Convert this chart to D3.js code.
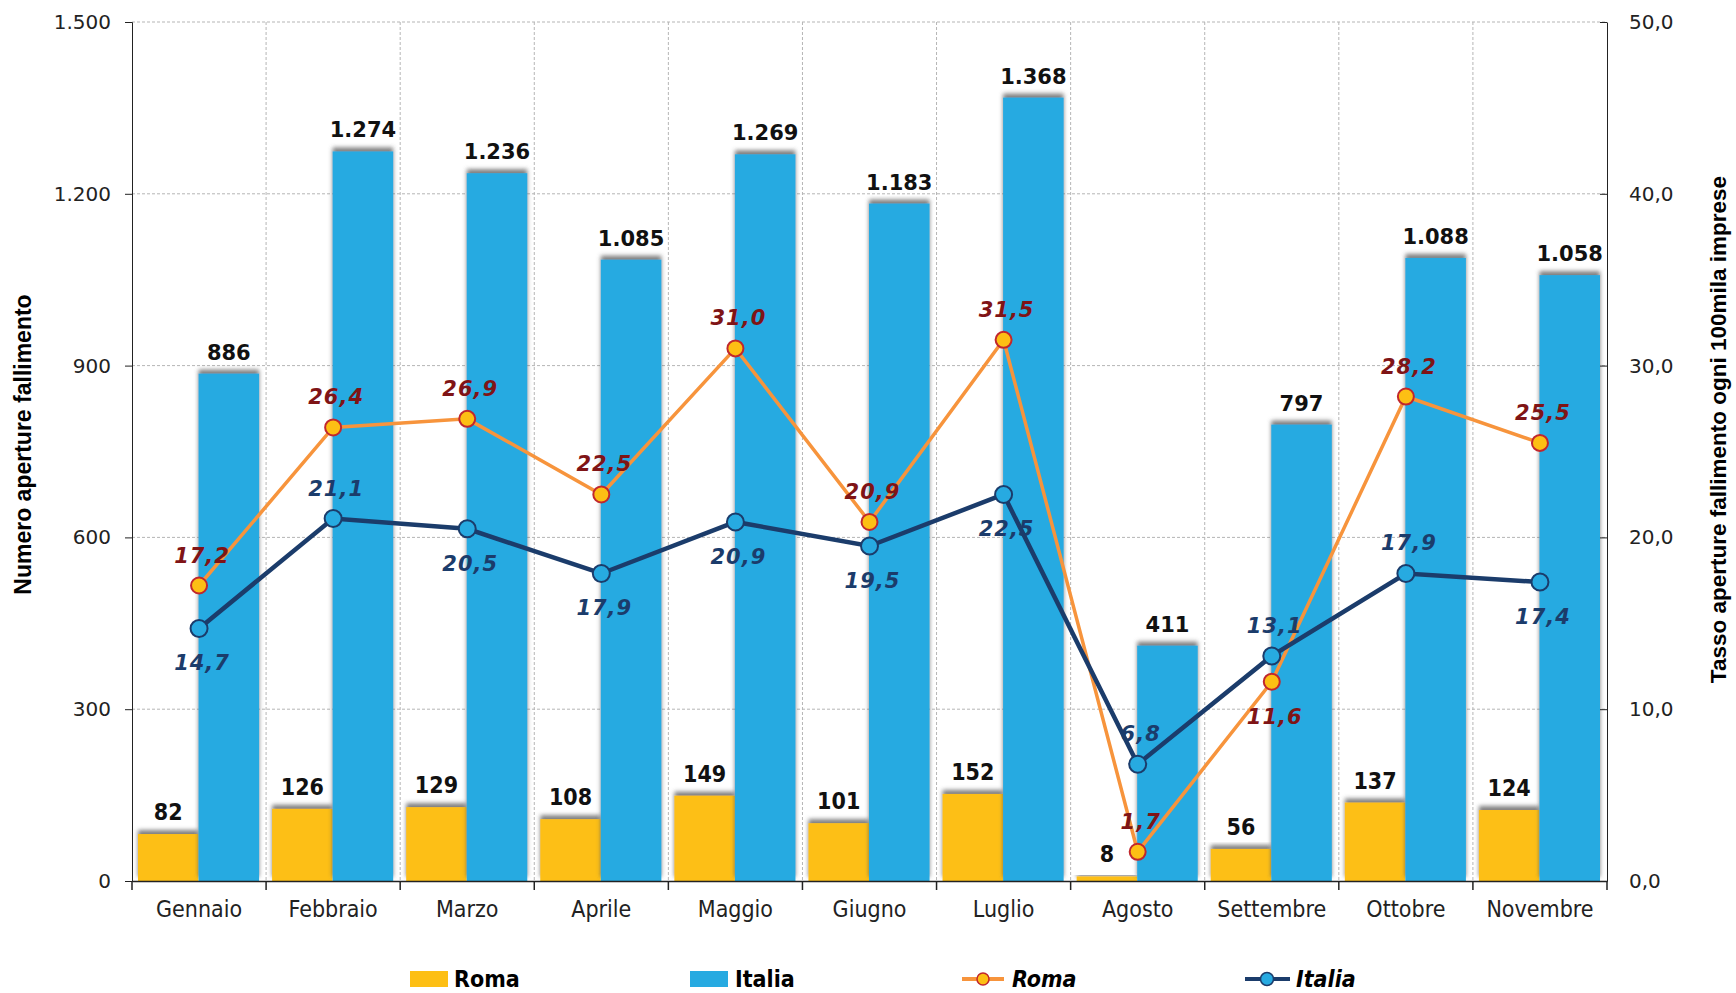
<!DOCTYPE html>
<html>
<head>
<meta charset="utf-8">
<script src="https://cdn.jsdelivr.net/npm/d3@7"></script>
<style>
  body { margin: 0; background: #fff; }
  .tick text { fill: #222; }
</style>
</head>
<body>
<div id="chart"></div>
<script>
const months = ['Gennaio', 'Febbraio', 'Marzo', 'Aprile', 'Maggio', 'Giugno', 'Luglio', 'Agosto', 'Settembre', 'Ottobre', 'Novembre'];
const romaCount = [82, 126, 129, 108, 149, 101, 152, 8, 56, 137, 124];
const italiaCount = [886, 1274, 1236, 1085, 1269, 1183, 1368, 411, 797, 1088, 1058];
const romaRate = [17.2, 26.4, 26.9, 22.5, 31.0, 20.9, 31.5, 1.7, 11.6, 28.2, 25.5];
const italiaRate = [14.7, 21.1, 20.5, 17.9, 20.9, 19.5, 22.5, 6.8, 13.1, 17.9, 17.4];
// label above (-1) or below (+1) the point
const romaLabelSide = [-1, -1, -1, -1, -1, -1, -1, -1, 1, -1, -1];
const italiaLabelSide = [1, -1, 1, 1, 1, 1, 1, -1, -1, -1, 1];
const leftTicks = [0, 300, 600, 900, 1200, 1500];
const rightTicks = [0, 10, 20, 30, 40, 50];

const W = 1736, H = 993;
const margin = {top: 22, right: 129, bottom: 112, left: 132};
const width = W - margin.left - margin.right;
const height = H - margin.top - margin.bottom;

const colors = {
  romaBar: '#FDBF14', italiaBar: '#27AAE1',
  romaLine: '#F7943C', romaDotStroke: '#C1272D',
  italiaLine: '#1B3C6B', romaText: '#7F1416', italiaText: '#1B3C6B'
};

const svg = d3.select('#chart').append('svg')
    .attr('width', W).attr('height', H);

const defs = svg.append('defs');
const f = defs.append('filter').attr('id', 'shadow')
    .attr('x', '-20%').attr('y', '-20%').attr('width', '140%').attr('height', '140%');
f.append('feDropShadow').attr('dx', 0).attr('dy', -4).attr('stdDeviation', 2.2)
    .attr('flood-color', '#555').attr('flood-opacity', 0.75);

const g = svg.append('g').attr('transform', `translate(${margin.left},${margin.top})`);

const x = d3.scaleBand().domain(months).range([0, width]).paddingInner(0).paddingOuter(0);
const xSub = d3.scaleBand().domain(['roma', 'italia']).range([6, x.bandwidth() - 7]).padding(0);
const yL = d3.scaleLinear().domain([0, 1500]).range([height, 0]);
const yR = d3.scaleLinear().domain([0, 50]).range([height, 0]);

// grid
g.append('g').selectAll('line').data(leftTicks.slice(1)).join('line')
    .attr('x1', 0).attr('x2', width)
    .attr('y1', d => yL(d)).attr('y2', d => yL(d))
    .attr('stroke', '#b5b5b5').attr('stroke-dasharray', '3,2').attr('stroke-width', 1);
g.append('g').selectAll('line').data(months.slice(1)).join('line')
    .attr('x1', d => x(d)).attr('x2', d => x(d))
    .attr('y1', 0).attr('y2', height)
    .attr('stroke', '#b5b5b5').attr('stroke-dasharray', '3,2').attr('stroke-width', 1);

// bars
const groups = g.append('g').selectAll('g').data(months).join('g')
    .attr('transform', d => `translate(${x(d)},0)`);

groups.append('rect')
    .attr('x', xSub('roma')).attr('width', xSub.bandwidth())
    .attr('y', (d, i) => yL(romaCount[i]))
    .attr('height', (d, i) => height - yL(romaCount[i]))
    .attr('fill', colors.romaBar).attr('filter', 'url(#shadow)');
groups.append('rect')
    .attr('x', xSub('italia')).attr('width', xSub.bandwidth())
    .attr('y', (d, i) => yL(italiaCount[i]))
    .attr('height', (d, i) => height - yL(italiaCount[i]))
    .attr('fill', colors.italiaBar).attr('filter', 'url(#shadow)');

const fmtInt = v => d3.format(',')(v).replace(/,/g, '.');
const fmtDec = v => d3.format('.1f')(v).replace('.', ',');

groups.append('text')
    .attr('x', xSub('roma') + xSub.bandwidth() / 2)
    .attr('y', (d, i) => yL(romaCount[i]) - 14)
    .attr('text-anchor', 'middle')
    .style('font-family', '"Liberation Sans Narrow", "DejaVu Sans Condensed", sans-serif')
    .style('font-size', '23px').style('font-weight', 'bold').attr('fill', '#111')
    .text((d, i) => fmtInt(romaCount[i]));
groups.append('text')
    .attr('x', xSub('italia') + xSub.bandwidth() / 2)
    .attr('y', (d, i) => yL(italiaCount[i]) - 14)
    .attr('text-anchor', 'middle')
    .style('font-family', '"DejaVu Sans", sans-serif')
    .style('font-size', '21px').style('font-weight', '600').attr('fill', '#111')
    .text((d, i) => fmtInt(italiaCount[i]));

// axes
const xAxis = g.append('g').attr('transform', `translate(0,${height})`)
    .call(d3.axisBottom(x).tickSize(0).tickPadding(20));
xAxis.select('.domain').attr('stroke', '#222').attr('stroke-width', 1.5);
xAxis.selectAll('.tick text')
    .style('font-family', '"Liberation Sans Narrow", "DejaVu Sans Condensed", sans-serif')
    .style('font-size', '23px').attr('fill', '#333');
xAxis.append('g').selectAll('line').data(months.map((m, i) => x(m)).concat([width])).join('line')
    .attr('x1', d => d).attr('x2', d => d).attr('y1', 0).attr('y2', 9)
    .attr('stroke', '#222').attr('stroke-width', 1.5);

const leftAxis = g.append('g')
    .call(d3.axisLeft(yL).tickValues(leftTicks).tickSize(7).tickPadding(14).tickFormat(fmtInt));
leftAxis.select('.domain').attr('stroke', '#222');
leftAxis.selectAll('.tick line').attr('stroke', '#222');
leftAxis.selectAll('.tick text')
    .style('font-family', '"DejaVu Sans", sans-serif').style('font-size', '20px')
    .attr('fill', '#333');

const rightAxis = g.append('g').attr('transform', `translate(${width},0)`)
    .call(d3.axisRight(yR).tickValues(rightTicks).tickSize(0).tickPadding(22).tickFormat(fmtDec));
rightAxis.select('.domain').attr('stroke', '#222');
rightAxis.selectAll('.tick').append('line').attr('x1', -7).attr('x2', 0).attr('stroke', '#222');
rightAxis.selectAll('.tick text')
    .style('font-family', '"DejaVu Sans", sans-serif').style('font-size', '20px')
    .attr('fill', '#333');

// axis titles
svg.append('text')
    .attr('transform', `translate(31,${margin.top + height / 2 - 7}) rotate(-90)`)
    .attr('text-anchor', 'middle')
    .style('font-family', '"Liberation Sans", Arial, sans-serif')
    .style('font-size', '23px').style('font-weight', 'bold')
    .text('Numero aperture fallimento');
svg.append('text')
    .attr('transform', `translate(1726,${margin.top + height / 2 - 22}) rotate(-90)`)
    .attr('text-anchor', 'middle')
    .style('font-family', '"Liberation Sans", Arial, sans-serif')
    .style('font-size', '22.5px').style('font-weight', 'bold')
    .text('Tasso aperture fallimento ogni 100mila imprese');

// lines
const cx = m => x(m) + x.bandwidth() / 2;
const lineR = d3.line().x((d, i) => cx(months[i])).y(d => yR(d));

g.append('path').datum(romaRate).attr('d', lineR)
    .attr('fill', 'none').attr('stroke', colors.romaLine).attr('stroke-width', 3.5);
g.append('path').datum(italiaRate).attr('d', lineR)
    .attr('fill', 'none').attr('stroke', colors.italiaLine).attr('stroke-width', 4.5);

g.append('g').selectAll('circle').data(romaRate).join('circle')
    .attr('cx', (d, i) => cx(months[i])).attr('cy', d => yR(d)).attr('r', 8)
    .attr('fill', colors.romaBar).attr('stroke', colors.romaDotStroke).attr('stroke-width', 2);
g.append('g').selectAll('circle').data(italiaRate).join('circle')
    .attr('cx', (d, i) => cx(months[i])).attr('cy', d => yR(d)).attr('r', 8.5)
    .attr('fill', colors.italiaBar).attr('stroke', colors.italiaLine).attr('stroke-width', 2);

const rateLabel = (data, sides, color) => {
  g.append('g').selectAll('text').data(data).join('text')
      .attr('x', (d, i) => cx(months[i]) + 3)
      .attr('y', (d, i) => yR(d) + (sides[i] < 0 ? -23 : 42))
      .attr('text-anchor', 'middle')
      .style('font-family', '"DejaVu Sans", sans-serif')
      .style('font-size', '21px').style('font-style', 'italic').style('font-weight', 'bold')
      .style('letter-spacing', '1px')
      .attr('fill', color)
      .text(d => fmtDec(d));
};
rateLabel(romaRate, romaLabelSide, colors.romaText);
rateLabel(italiaRate, italiaLabelSide, colors.italiaText);

// legend
const legend = svg.append('g').attr('transform', `translate(0,978)`);
const legFont = sel => sel
    .style('font-family', '"Liberation Sans Narrow", "DejaVu Sans Condensed", sans-serif')
    .style('font-size', '23px').style('font-weight', 'bold').attr('dy', '0.35em');

legend.append('rect').attr('x', 410).attr('y', -7).attr('width', 38).attr('height', 16).attr('fill', colors.romaBar);
legend.append('text').attr('x', 454).attr('y', 1).call(legFont).text('Roma');
legend.append('rect').attr('x', 690).attr('y', -7).attr('width', 38).attr('height', 16).attr('fill', colors.italiaBar);
legend.append('text').attr('x', 735).attr('y', 1).call(legFont).text('Italia');

legend.append('line').attr('x1', 962).attr('x2', 1004).attr('y1', 1).attr('y2', 1)
    .attr('stroke', colors.romaLine).attr('stroke-width', 4);
legend.append('circle').attr('cx', 983).attr('cy', 1).attr('r', 6)
    .attr('fill', colors.romaBar).attr('stroke', colors.romaDotStroke).attr('stroke-width', 1.5);
legend.append('text').attr('x', 1012).attr('y', 1).call(legFont).style('font-style', 'italic').text('Roma');

legend.append('line').attr('x1', 1245).attr('x2', 1290).attr('y1', 1).attr('y2', 1)
    .attr('stroke', colors.italiaLine).attr('stroke-width', 4);
legend.append('circle').attr('cx', 1267).attr('cy', 1).attr('r', 6.5)
    .attr('fill', colors.italiaBar).attr('stroke', colors.italiaLine).attr('stroke-width', 1.5);
legend.append('text').attr('x', 1296).attr('y', 1).call(legFont).style('font-style', 'italic').text('Italia');
</script>
</body>
</html>
